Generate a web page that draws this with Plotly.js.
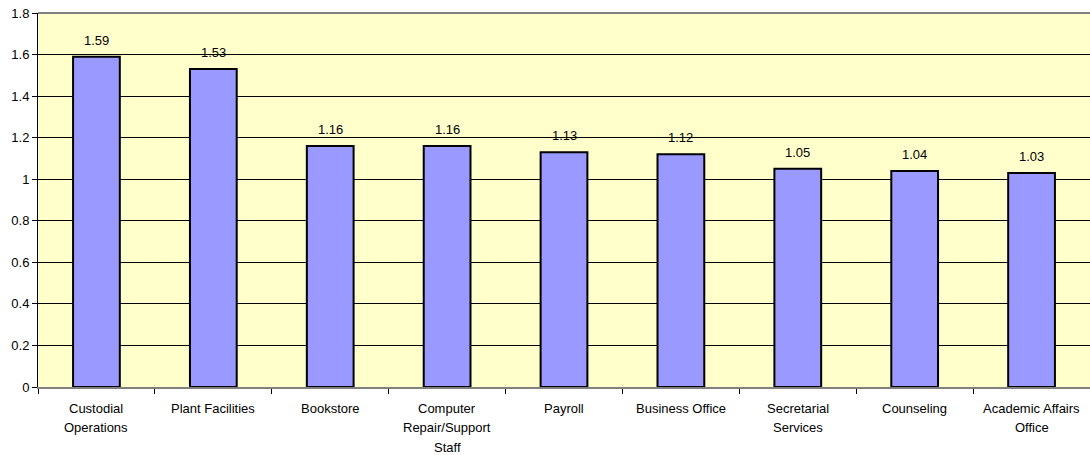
<!DOCTYPE html>
<html>
<head>
<meta charset="utf-8">
<script src="https://cdn.plot.ly/plotly-3.0.1.min.js"></script>
<style>html,body{margin:0;padding:0;background:#fff;}#chart{width:1090px;height:455px;}</style>
</head>
<body>
<div id="chart"></div>
<script>
const categories = ["Custodial Operations", "Plant Facilities", "Bookstore", "Computer Repair/Support Staff", "Payroll", "Business Office", "Secretarial Services", "Counseling", "Academic Affairs Office"];
const categoryLines = [["Custodial", "Operations"], ["Plant Facilities"], ["Bookstore"], ["Computer", "Repair/Support", "Staff"], ["Payroll"], ["Business Office"], ["Secretarial", "Services"], ["Counseling"], ["Academic Affairs", "Office"]];
const values = [1.59, 1.53, 1.16, 1.16, 1.13, 1.12, 1.05, 1.04, 1.03];
const valueLabels = ["1.59", "1.53", "1.16", "1.16", "1.13", "1.12", "1.05", "1.04", "1.03"];
const yTickVals = [0, 0.2, 0.4, 0.6, 0.8, 1, 1.2, 1.4, 1.6, 1.8];
const yTickText = ["0", "0.2", "0.4", "0.6", "0.8", "1", "1.2", "1.4", "1.6", "1.8"];

const FONT = 'Liberation Sans, Arial, sans-serif';

const trace = {
  type: 'bar',
  x: categories,
  y: values,
  marker: {color: '#9999FF', line: {color: '#000', width: 2}},
  width: 0.4,
  hoverinfo: 'none'
};

const annotations = [];
categories.forEach((c, i) => {
  annotations.push({
    x: c, y: values[i], xref: 'x', yref: 'y',
    text: valueLabels[i], showarrow: false,
    yanchor: 'bottom', yshift: 7,
    font: {family: FONT, size: 13, color: '#000'}
  });
  categoryLines[i].forEach((line, j) => {
    annotations.push({
      x: c, y: 0, xref: 'x', yref: 'paper',
      text: line, showarrow: false,
      yanchor: 'middle', yshift: -(21 + j * 19.5),
      font: {family: FONT, size: 13, color: '#000'}
    });
  });
});

const layout = {
  width: 1090, height: 455,
  margin: {l: 38, r: 0, t: 13, b: 68, pad: 0},
  paper_bgcolor: '#ffffff',
  plot_bgcolor: '#FFFFCC',
  showlegend: false,
  font: {family: FONT, size: 13, color: '#000'},
  xaxis: {
    type: 'category',
    showline: true, linecolor: '#808080', linewidth: 2,
    ticks: 'outside', tickson: 'boundaries', ticklen: 5, tickcolor: '#000',
    showgrid: false, showticklabels: false
  },
  yaxis: {
    range: [0, 1.8],
    tickvals: yTickVals, ticktext: yTickText,
    showline: true, linecolor: '#000', linewidth: 1,
    ticks: 'outside', ticklen: 5, tickcolor: '#000',
    showgrid: true, gridcolor: '#000', gridwidth: 1,
    zeroline: false,
    tickfont: {family: FONT, size: 13, color: '#000'}
  },
  annotations: annotations,
  shapes: [
    {type: 'line', xref: 'paper', yref: 'paper', x0: 0, x1: 1, y0: 1, y1: 1, line: {color: '#808080', width: 2}}
  ]
};

Plotly.newPlot('chart', [trace], layout, {staticPlot: true, displayModeBar: false});
</script>
</body>
</html>
